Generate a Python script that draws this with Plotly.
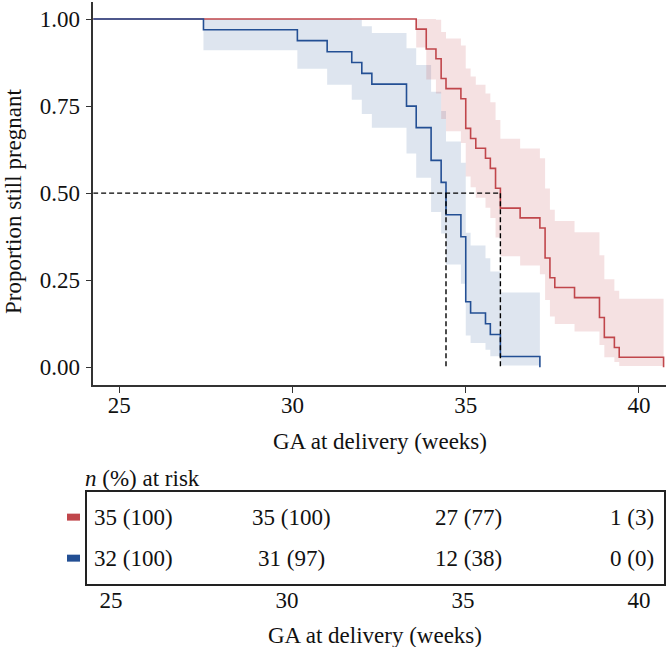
import plotly.graph_objects as go

# ---------------- data ----------------
# Kaplan-Meier estimates (GA at delivery, weeks)
blue_t = [0, 27.43, 30.14, 31.0, 31.71, 32.0, 32.29, 33.29, 33.57, 34.0, 34.29,
          34.43, 34.86, 35.0, 35.14, 35.57, 35.71, 36.0, 37.14]
blue_s = [1.0, 0.969, 0.938, 0.906, 0.875, 0.844, 0.813, 0.750, 0.688, 0.594, 0.531,
          0.438, 0.375, 0.188, 0.156, 0.125, 0.094, 0.031, 0.0]
blue_lo = [1.0, 0.910, 0.857, 0.811, 0.768, 0.727, 0.688, 0.614, 0.544, 0.446, 0.384,
           0.295, 0.240, 0.091, 0.070, 0.050, 0.032, 0.005]
blue_hi = [1.0, 1.0, 1.0, 1.0, 0.997, 0.979, 0.960, 0.916, 0.868, 0.791, 0.736,
           0.648, 0.587, 0.386, 0.350, 0.313, 0.275, 0.215]

red_t = [0, 33.57, 33.86, 34.14, 34.29, 34.43, 34.86, 35.0, 35.14, 35.29, 35.57, 35.71,
         35.86, 36.0, 36.57, 37.14, 37.29, 37.43, 37.57, 38.14, 38.86, 39.0, 39.29,
         39.43, 40.71]
red_s = [1.0, 0.971, 0.914, 0.886, 0.829, 0.800, 0.771, 0.686, 0.657, 0.629, 0.600, 0.571,
         0.514, 0.457, 0.429, 0.400, 0.314, 0.257, 0.229, 0.200, 0.143, 0.086, 0.057,
         0.029, 0.0]
red_lo = [1.0, 0.918, 0.826, 0.786, 0.713, 0.678, 0.644, 0.548, 0.517, 0.487, 0.458, 0.429,
          0.373, 0.319, 0.292, 0.267, 0.193, 0.146, 0.124, 0.103, 0.064, 0.029, 0.015,
          0.004]
red_hi = [1.0, 1.0, 1.0, 0.998, 0.963, 0.944, 0.924, 0.858, 0.835, 0.811, 0.786, 0.761,
          0.710, 0.656, 0.628, 0.600, 0.513, 0.452, 0.420, 0.388, 0.322, 0.253, 0.220,
          0.197]

median_blue = 34.43
median_red = 36.0
median_level = 0.5

x_ticks = [25, 30, 35, 40]
y_ticks = [0.0, 0.25, 0.50, 0.75, 1.00]

risk_times = [25, 30, 35, 40]
risk_red_n = [35, 35, 27, 1]
risk_red_pct = [100, 100, 77, 3]
risk_blue_n = [32, 31, 12, 0]
risk_blue_pct = [100, 97, 38, 0]

# ---------------- style ----------------
W, H = 666, 647
RED = "#C0464B"
BLUE = "#234F94"
RED_FILL = "rgba(192,70,75,0.16)"
BLUE_FILL = "rgba(35,79,148,0.15)"
FONT = "Liberation Serif"
FS = 23
AX = "#333333"

def px_x(p):
    return p / W

def px_y(p):
    return 1 - p / H

fig = go.Figure()

def band(t, lo, hi, fill):
    x = list(t[:len(lo)]) + [t[len(lo)]]
    fig.add_trace(go.Scatter(x=x, y=list(hi) + [hi[-1]], mode="lines", line=dict(width=0, shape="hv"),
                             hoverinfo="skip", showlegend=False))
    fig.add_trace(go.Scatter(x=x, y=list(lo) + [lo[-1]], mode="lines", line=dict(width=0, shape="hv"),
                             fill="tonexty", fillcolor=fill, hoverinfo="skip", showlegend=False))

band(blue_t, blue_lo, blue_hi, BLUE_FILL)
band(red_t, red_lo, red_hi, RED_FILL)

fig.add_trace(go.Scatter(x=red_t, y=red_s, mode="lines", line=dict(color=RED, width=1.6, shape="hv"),
                         showlegend=False))
fig.add_trace(go.Scatter(x=blue_t, y=blue_s, mode="lines", line=dict(color=BLUE, width=1.6, shape="hv"),
                         showlegend=False))

# median reference lines
dash = dict(color="black", width=1.4, dash="5px,3px")
fig.add_trace(go.Scatter(x=[0, median_red], y=[median_level, median_level], mode="lines",
                         line=dash, showlegend=False))
for m in (median_blue, median_red):
    fig.add_trace(go.Scatter(x=[m, m], y=[median_level, 0], mode="lines", line=dash, showlegend=False))

# ---------------- risk table ----------------
anchors = ["left", "center", "center", "right"]
shifts = [-19, 5, 5, 17]
annotations = []
for row, ns, pcts in ((2, risk_red_n, risk_red_pct), (1, risk_blue_n, risk_blue_pct)):
    for i, (t, n, p) in enumerate(zip(risk_times, ns, pcts)):
        annotations.append(dict(x=t, y=row, xref="x2", yref="y2", text=f"{n} ({p})",
                                showarrow=False, xanchor=anchors[i], yanchor="middle",
                                xshift=shifts[i], font=dict(family=FONT, size=FS, color="#111")))

annotations.append(dict(x=px_x(83), y=px_y(478), xref="paper", yref="paper",
                        text="<i>n</i> (%) at risk", showarrow=False, xanchor="left", yanchor="middle",
                        font=dict(family=FONT, size=FS, color="#111")))
# axis titles
annotations.append(dict(x=(px_x(93.3) + 1) / 2, y=px_y(441), xref="paper", yref="paper",
                        text="GA at delivery (weeks)", showarrow=False, xanchor="center", yanchor="middle",
                        font=dict(family=FONT, size=FS, color="#111")))
annotations.append(dict(x=(px_x(86.7) + px_x(664)) / 2, y=px_y(635), xref="paper", yref="paper",
                        text="GA at delivery (weeks)", showarrow=False, xanchor="center", yanchor="middle",
                        font=dict(family=FONT, size=FS, color="#111")))
annotations.append(dict(x=px_x(13), y=px_y(202), xref="paper", yref="paper", textangle=-90,
                        text="Proportion still pregnant", showarrow=False, xanchor="center", yanchor="middle",
                        font=dict(family=FONT, size=FS, color="#111")))

shapes = []
for row, col in ((2, RED), (1, BLUE)):
    shapes.append(dict(type="rect", xref="paper", yref="y2", x0=px_x(67), x1=px_x(80),
                       y0=row - 0.085, y1=row + 0.085, fillcolor=col, line=dict(width=0)))

tickfont = dict(family=FONT, size=FS, color="#111")

fig.update_layout(
    width=W, height=H, margin=dict(l=0, r=0, t=0, b=0),
    paper_bgcolor="white", plot_bgcolor="white",
    showlegend=False, font=dict(family=FONT, size=FS, color="#111"),
    annotations=annotations, shapes=shapes,
    xaxis=dict(domain=[px_x(93.3), 1.0], range=[24.25, 40.78], tickvals=x_ticks,
               showline=True, linecolor=AX, linewidth=1.6, ticks="outside", ticklen=6,
               tickwidth=1.4, tickcolor=AX, showgrid=False, zeroline=False, tickfont=tickfont,
               automargin=False, anchor="y", ticklabelstandoff=-7),
    yaxis=dict(domain=[px_y(384.7), px_y(1.6)], range=[-0.05, 1.05], tickvals=y_ticks,
               tickformat=".2f", showline=True, linecolor=AX, linewidth=1.6, ticks="outside",
               ticklen=6, tickwidth=1.4, tickcolor=AX, showgrid=False, zeroline=False,
               tickfont=tickfont, automargin=False, anchor="x", ticklabelstandoff=1),
    xaxis2=dict(domain=[px_x(86.7), px_x(664)], range=[24.31, 40.71], tickvals=risk_times,
                showline=True, mirror=True, linecolor="#222", linewidth=1.6, ticks="",
                showgrid=False, zeroline=False, tickfont=tickfont, automargin=False, anchor="y2",
                ticklabelstandoff=-5),
    yaxis2=dict(domain=[px_y(584), px_y(491.7)], range=[0.37, 2.62], showticklabels=False,
                showline=True, mirror=True, linecolor="#222", linewidth=1.6, ticks="",
                showgrid=False, zeroline=False, automargin=False, anchor="x2"),
)

fig.write_html("out.html")
